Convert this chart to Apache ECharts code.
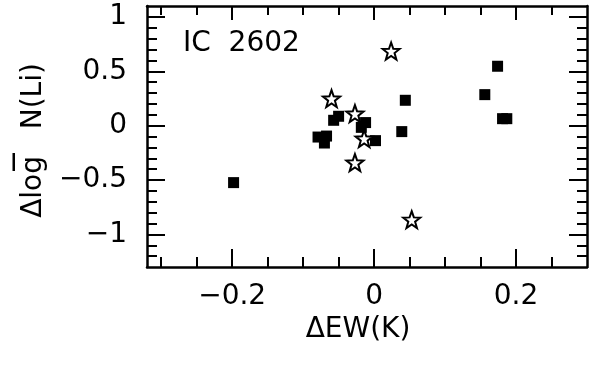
<!DOCTYPE html>
<html>
<head>
<meta charset="utf-8">
<script src="https://cdn.jsdelivr.net/npm/echarts@6/dist/echarts.min.js"></script>
<style>
  html, body { margin: 0; padding: 0; background: #fff; }
  #chart { width: 589px; height: 371px; }
</style>
</head>
<body>
<div id="chart"></div>
<script>
// filled squares: [ΔEW(K), Δlog N(Li)]
const squares = [
  [-0.198, -0.524],
  [-0.079, -0.105],
  [-0.067, -0.096],
  [-0.070, -0.160],
  [-0.057, 0.049],
  [-0.050, 0.086],
  [-0.012, 0.028],
  [-0.018, -0.016],
  [0.002, -0.138],
  [0.039, -0.055],
  [0.044, 0.233],
  [0.156, 0.285],
  [0.174, 0.546],
  [0.181, 0.064],
  [0.187, 0.064]
];
// open stars
const stars = [
  [0.024, 0.686],
  [-0.060, 0.248],
  [-0.027, 0.110],
  [-0.014, -0.120],
  [-0.027, -0.340],
  [0.053, -0.865]
];

const xMajor = [-0.2, 0, 0.2];
const xMinor = [-0.3, -0.25, -0.15, -0.1, -0.05, 0.05, 0.1, 0.15, 0.25];
const yMajor = [-1, -0.5, 0, 0.5, 1];
const yMinor = [-1.2, -1.1, -0.9, -0.8, -0.7, -0.6, -0.4, -0.3, -0.2, -0.1,
  0.1, 0.2, 0.3, 0.4, 0.6, 0.7, 0.8, 0.9];

const FONT = "DejaVu Sans";
const starPath = "path://M50 0 L62 33 L97.5 34.5 L69 56 L79.4 90.5 L50 71 L20.6 90.5 L31 56 L2.5 34.5 L38 33 Z";
const fmt = v => String(v).replace("-", "\u2212");

// builds one of the stacked axes (major or minor ticks, all inward)
function mkAxis(dim, pos, vals, len, withLine, withLabels) {
  const isX = dim === "x";
  return {
    type: "value",
    position: pos,
    min: isX ? -0.32 : -1.3,
    max: isX ? 0.3 : 1.1,
    axisLine: { show: withLine, onZero: false, lineStyle: { color: "#000", width: 2.5 } },
    axisTick: { show: true, inside: true, length: len, customValues: vals, lineStyle: { color: "#000", width: 2 } },
    axisLabel: withLabels
      ? { show: true, customValues: vals, formatter: fmt, color: "#000", fontSize: 28, fontFamily: FONT, margin: isX ? 16 : 20 }
      : { show: false },
    splitLine: { show: false }
  };
}

const xAxes = [
  mkAxis("x", "bottom", xMajor, 18, true, true),
  mkAxis("x", "bottom", xMinor, 10, false, false),
  mkAxis("x", "top", xMajor, 14, true, false),
  mkAxis("x", "top", xMinor, 9, false, false)
];
Object.assign(xAxes[0], {
  name: "\u0394EW(K)", nameLocation: "middle", nameGap: 44,
  nameTextStyle: { color: "#000", fontSize: 28, fontFamily: FONT, padding: [0, 18, 0, 0] }
});

const yAxes = [
  mkAxis("y", "left", yMajor, 18, true, true),
  mkAxis("y", "left", yMinor, 10, false, false),
  mkAxis("y", "right", yMajor, 18, true, false),
  mkAxis("y", "right", yMinor, 10, false, false)
];
Object.assign(yAxes[0], {
  name: "\u0394log   N(Li)", nameLocation: "middle", nameGap: 99,
  nameTextStyle: { color: "#000", fontSize: 28, fontFamily: FONT, padding: [0, 8, 0, 0] }
});

const chart = echarts.init(document.getElementById("chart"));
chart.setOption({
  animation: false,
  backgroundColor: "#fff",
  grid: { left: 147, right: 2, top: 6, bottom: 104 },
  xAxis: xAxes,
  yAxis: yAxes,
  graphic: [
    {
      type: "text", left: 183, top: 30,
      style: { text: "IC  2602", fill: "#000", fontSize: 28, fontFamily: FONT }
    },
    {
      // overline above "log"
      type: "rect", shape: { x: 12.5, y: 153, width: 2.5, height: 18 },
      style: { fill: "#000" }
    }
  ],
  series: [
    {
      type: "scatter", data: squares, symbol: "rect", symbolSize: 11,
      itemStyle: { color: "#000", opacity: 1 }
    },
    {
      type: "scatter", data: stars, symbol: starPath, symbolSize: 17,
      itemStyle: { color: "#fff", borderColor: "#000", borderWidth: 2, opacity: 1 }
    }
  ]
});
</script>
</body>
</html>
